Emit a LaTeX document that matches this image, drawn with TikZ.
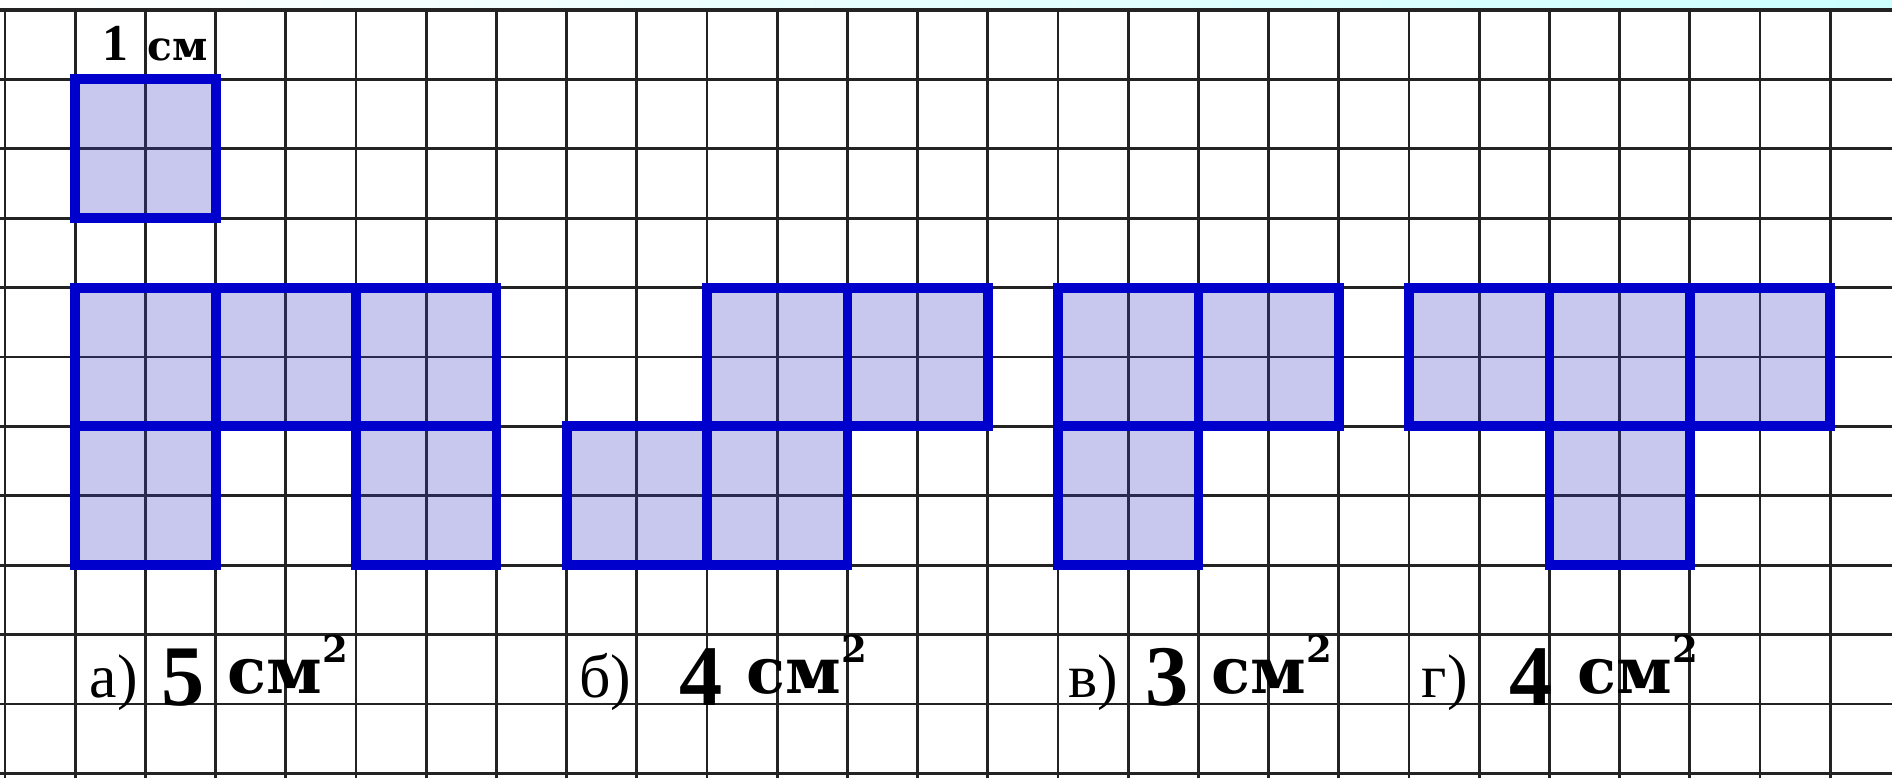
\documentclass[tikz,border=0pt]{standalone}
\usepackage{fontspec}
\setmainfont{Liberation Serif}
\newfontfamily\unitfont{DejaVu Serif}
\definecolor{figblue}{RGB}{0,0,205}
\definecolor{figtint}{RGB}{60,60,200}
\definecolor{gridgray}{RGB}{35,35,35}
\definecolor{topcyan}{RGB}{205,255,255}

\begin{document}
\begin{tikzpicture}[x=1cm, y=0.9886cm,
  gridline/.style={line width=1.1pt, color=gridgray},
  sq/.style={draw=figblue, line width=4pt, fill=figtint, fill opacity=0.28},
  tag/.style={inner sep=0, anchor=base, font=\fontsize{25}{25}\selectfont},
  num/.style={inner sep=0, anchor=base, font=\bfseries\fontsize{35}{35}\selectfont},
  unit/.style={inner sep=0, anchor=base west, font=\unitfont\bfseries\fontsize{26}{26}\selectfont}]
\useasboundingbox (-0.072,-0.072) rectangle (26.88,11.144);
\fill[white] (-0.072,-0.072) rectangle (26.88,11.144);
\fill[left color=white, right color=topcyan] (-0.072,11) rectangle (26.88,11.144);

% squared paper
\foreach \y in {0,...,11}
  \draw[gridline] (-0.072,\y) -- (26.88,\y);
\foreach \x in {0,...,26}
  \draw[gridline] (\x,-0.072) -- (\x,11);
\draw[gridline, line width=1.6pt] (-0.072,11) -- (26.88,11);

% unit square
\node[inner sep=0, anchor=base, font=\bfseries\fontsize{21}{21}\selectfont] (one) at (1.57,10.27) {1};
\node[inner sep=0, anchor=base, font=\unitfont\bfseries\fontsize{16.5}{16.5}\selectfont] (cm) at (2.46,10.27) {см};
\draw[sq] (1,8) rectangle (3,10);

% figure a
\draw[sq] (1,5) rectangle (3,7);
\draw[sq] (3,5) rectangle (5,7);
\draw[sq] (5,5) rectangle (7,7);
\draw[sq] (1,3) rectangle (3,5);
\draw[sq] (5,3) rectangle (7,5);

% figure b
\draw[sq] (10,5) rectangle (12,7);
\draw[sq] (12,5) rectangle (14,7);
\draw[sq] (8,3) rectangle (10,5);
\draw[sq] (10,3) rectangle (12,5);

% figure c
\draw[sq] (15,5) rectangle (17,7);
\draw[sq] (17,5) rectangle (19,7);
\draw[sq] (15,3) rectangle (17,5);

% figure d
\draw[sq] (20,5) rectangle (22,7);
\draw[sq] (22,5) rectangle (24,7);
\draw[sq] (24,5) rectangle (26,7);
\draw[sq] (22,3) rectangle (24,5);

% answers
\node[tag] (tagA) at (1.55,1.095) {а)};
\node[num] (numA) at (2.54,0.98) {5};
\node[unit] (unitA) at (3.16,1.155) {см\raisebox{0.44cm}{\fontsize{15}{15}\selectfont 2}};

\node[tag] (tagB) at (8.55,1.095) {б)};
\node[num] (numB) at (9.92,0.98) {4};
\node[unit] (unitB) at (10.56,1.155) {см\raisebox{0.44cm}{\fontsize{15}{15}\selectfont 2}};

\node[tag] (tagC) at (15.50,1.095) {в)};
\node[num] (numC) at (16.55,0.98) {3};
\node[unit] (unitC) at (17.18,1.155) {см\raisebox{0.44cm}{\fontsize{15}{15}\selectfont 2}};

\node[tag] (tagD) at (20.51,1.095) {г)};
\node[num] (numD) at (21.74,0.98) {4};
\node[unit] (unitD) at (22.39,1.155) {см\raisebox{0.44cm}{\fontsize{15}{15}\selectfont 2}};

\end{tikzpicture}
\end{document}
